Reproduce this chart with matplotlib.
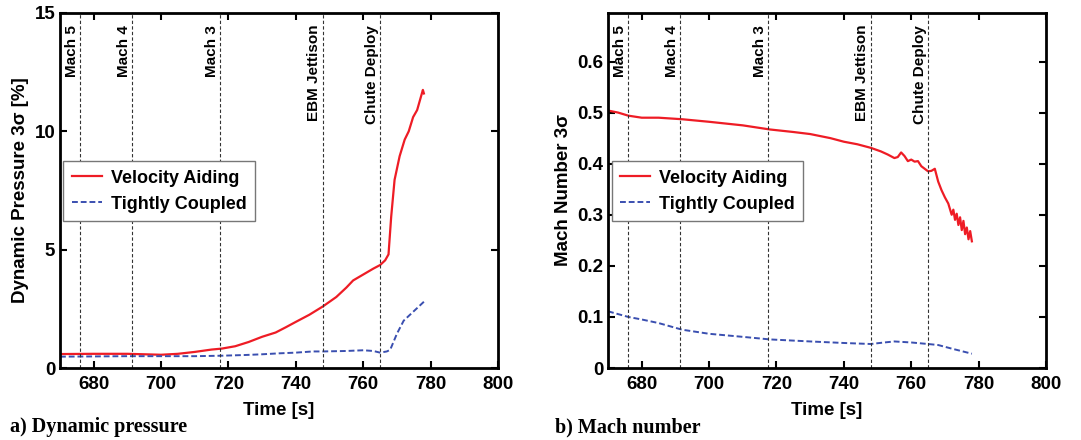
import matplotlib
matplotlib.use('Agg')
import matplotlib.pyplot as plt

plt.rcParams['font.family'] = ['Liberation Sans', 'DejaVu Sans']
plt.rcParams['font.weight'] = 'bold'

# event times [s] and their labels
event_times = [676.0, 691.5, 717.5, 748.0, 765.0]
event_names = ['Mach 5', 'Mach 4', 'Mach 3', 'EBM Jettison', 'Chute Deploy']

# a) dynamic pressure 3-sigma [%]
q_va_t = [670, 680, 690, 700, 705, 710, 715, 718, 722, 726, 730, 734, 737, 740,
          744, 748, 752, 755, 757, 760, 763, 765, 766.5, 767.5, 768.3, 769.3,
          770.8, 772.3, 773.5, 774.8, 776.0, 777.0, 777.7, 778.0]
q_va = [0.59, 0.60, 0.60, 0.56, 0.60, 0.68, 0.78, 0.82, 0.92, 1.10, 1.32, 1.50,
        1.72, 1.95, 2.25, 2.60, 3.00, 3.40, 3.70, 3.95, 4.20, 4.35, 4.55, 4.80,
        6.40, 7.95, 8.95, 9.65, 10.00, 10.60, 10.90, 11.40, 11.75, 11.60]
q_tc_t = [670, 680, 690, 700, 710, 718, 725, 730, 735, 740, 745, 748, 755, 760,
          763, 765, 767, 768, 770, 772, 775, 778]
q_tc = [0.48, 0.49, 0.50, 0.50, 0.50, 0.52, 0.55, 0.58, 0.62, 0.65, 0.70, 0.70,
        0.72, 0.75, 0.72, 0.65, 0.70, 0.77, 1.45, 2.00, 2.40, 2.80]

# b) Mach number 3-sigma
m_va_t = [670, 673, 676, 680, 685, 692, 700, 710, 718, 725, 730, 736, 740, 744,
          748, 751, 753, 755, 756, 757, 758, 759, 760, 761, 762, 763, 765, 766,
          767, 768, 769, 770, 771, 772, 772.5, 773, 773.5, 774, 774.5, 775,
          775.5, 776, 776.5, 777, 777.5, 778]
m_va = [0.504, 0.500, 0.494, 0.490, 0.490, 0.487, 0.482, 0.475, 0.467, 0.462,
        0.458, 0.450, 0.443, 0.438, 0.431, 0.424, 0.418, 0.411, 0.413, 0.422,
        0.415, 0.405, 0.408, 0.404, 0.405, 0.395, 0.385, 0.386, 0.390, 0.365,
        0.348, 0.334, 0.322, 0.300, 0.310, 0.290, 0.302, 0.280, 0.295, 0.270,
        0.288, 0.262, 0.275, 0.252, 0.268, 0.248]
m_tc_t = [670, 676, 680, 685, 692, 700, 710, 718, 730, 740, 748, 752, 755, 760,
          765, 768, 772, 775, 778]
m_tc = [0.111, 0.100, 0.095, 0.088, 0.075, 0.067, 0.061, 0.056, 0.052, 0.049,
        0.047, 0.050, 0.052, 0.050, 0.047, 0.045, 0.038, 0.033, 0.028]

fig = plt.figure(figsize=(10.81, 4.4), dpi=100)
ax1 = fig.add_axes([0.0555, 0.1636, 0.4052, 0.8069])
ax2 = fig.add_axes([0.5625, 0.1636, 0.4051, 0.8069])

red = '#ee1c25'
blue = '#3a4fb0'

panels = [
    (ax1, q_va_t, q_va, q_tc_t, q_tc, (0, 15), [0, 5, 10, 15], ['0', '5', '10', '15'],
     'Dynamic Pressure 3\u03c3 [%]'),
    (ax2, m_va_t, m_va, m_tc_t, m_tc, (0, 0.695), [0, 0.1, 0.2, 0.3, 0.4, 0.5, 0.6],
     ['0', '0.1', '0.2', '0.3', '0.4', '0.5', '0.6'], 'Mach Number 3\u03c3'),
]

for ax, t1, y1, t2, y2, ylim, yticks, ylabels, ylab in panels:
    ax.plot(t1, y1, color=red, linewidth=1.6, label='Velocity Aiding')
    ax.plot(t2, y2, color=blue, linewidth=1.4, linestyle=(0, (3, 1.5)),
            label='Tightly Coupled')
    ax.set_xlim(670, 800)
    ax.set_ylim(*ylim)
    top = ylim[1]
    # event markers with rotated labels
    for t, name in zip(event_times, event_names):
        ax.axvline(t, color='#333333', linewidth=0.8, linestyle=(0, (3, 2)))
        ax.text(t - 0.4, top * 0.967, name, rotation=90, ha='right', va='top',
                fontsize=11, fontweight='bold')
    ax.set_xticks([680, 700, 720, 740, 760, 780, 800])
    ax.set_yticks(yticks)
    ax.set_yticklabels(ylabels)
    ax.tick_params(direction='in', length=5, width=1.5, top=True, right=True,
                   labelsize=13.5)
    ax.tick_params(axis='x', pad=6)
    for s in ax.spines.values():
        s.set_linewidth(2)
    ax.set_xlabel('Time [s]', fontsize=13.5, fontweight='bold', labelpad=6)
    ax.set_ylabel(ylab, fontsize=13.5, fontweight='bold', labelpad=4)
    leg = ax.legend(loc='upper left', bbox_to_anchor=(0.008, 0.582), fontsize=13,
                    frameon=True, fancybox=False, framealpha=1, edgecolor='#777777',
                    handlelength=1.7, borderpad=0.45, labelspacing=0.5,
                    handletextpad=0.5, borderaxespad=0)
    leg.get_frame().set_linewidth(1.0)

fig.text(0.009, 0.018, 'a) Dynamic pressure', family='Liberation Serif',
         fontweight='bold', fontsize=14.5)
fig.text(0.513, 0.018, 'b) Mach number', family='Liberation Serif',
         fontweight='bold', fontsize=14.5)

fig.savefig('out.png', dpi=100)
